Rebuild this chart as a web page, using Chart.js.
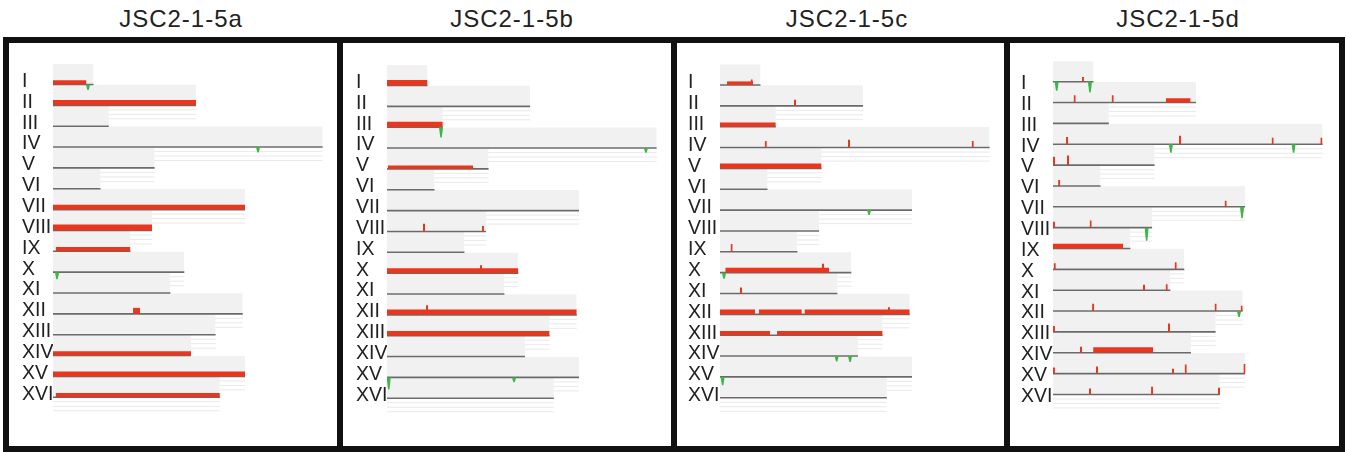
<!DOCTYPE html>
<html>
<head>
<meta charset="utf-8">
<script src="https://cdn.jsdelivr.net/npm/chart.js@4.4.1/dist/chart.umd.min.js"></script>
<style>
  body { margin: 0; width: 1347px; height: 452px; background: #fff; position: relative; overflow: hidden;
         font-family: "Liberation Sans", Arial, sans-serif; }
  .frame { position: absolute; left: 3px; top: 37px; width: 1342px; height: 415px; background: #111; }
  .panel { position: absolute; top: 43px; height: 403px; background: #fff; }
  .panel canvas { display: block; }
  .title { position: absolute; top: 5px; font-size: 24px; letter-spacing: 1px; color: #222;
           transform: translateX(-50%); white-space: nowrap; }
</style>
</head>
<body>
<div class="frame"></div>
<div id="stage"></div>
<script>
// yeast chromosomes and their lengths (kb)
const chromosomes = ['I', 'II', 'III', 'IV', 'V', 'VI', 'VII', 'VIII', 'IX', 'X', 'XI', 'XII', 'XIII', 'XIV', 'XV', 'XVI'];
const lengthsKb = [230, 813, 317, 1532, 577, 270, 1091, 563, 440, 746, 667, 1078, 924, 784, 1091, 948];
const panelTitles = ['JSC2-1-5a', 'JSC2-1-5b', 'JSC2-1-5c', 'JSC2-1-5d'];

// gained segments: [chromosome index, start kb, end kb, level]
const gainsA = [[0, 0, 190, 0.7], [1, 0, 813, 0.9], [6, 0, 1091, 0.8], [7, 0, 563, 1.0], [8, 15, 440, 0.7],
                [11, 455, 495, 1.0], [13, 0, 784, 0.7], [14, 0, 1091, 0.8], [15, 15, 948, 0.7]];
const gainsB = [[0, 0, 230, 0.9], [2, 0, 317, 0.9], [4, 5, 490, 0.55], [9, 0, 746, 0.8],
                [11, 0, 1078, 0.9], [12, 0, 924, 0.8]];
const gainsC = [[0, 40, 188, 0.6], [2, 0, 317, 0.7], [4, 0, 577, 0.8], [9, 30, 620, 0.8],
                [11, 0, 200, 0.8], [11, 220, 465, 0.8], [11, 480, 1078, 0.8], [12, 0, 284, 0.7], [12, 324, 924, 0.7]];
const gainsD = [[1, 642, 782, 0.7], [8, 0, 398, 0.8], [13, 228, 569, 0.9]];

// single probes / narrow peaks: [chromosome index, position kb, level] (negative = loss)
const spikesA = [[0, 199, -0.9], [3, 1165, -0.9], [9, 23, -1.2]];
const spikesB = [[2, 307, -1.7], [3, 1471, -0.8], [7, 210, 1.3], [7, 545, 0.9], [9, 534, 1.3],
                 [11, 227, 1.6], [14, 10, -2.0], [14, 722, -0.8]];
const spikesC = [[0, 180, 0.9], [1, 426, 1.0], [3, 260, 1.1], [3, 733, 1.3], [3, 1436, 1.1], [6, 847, -0.8],
                 [8, 66, 1.3], [9, 585, 1.5], [9, 23, -1.0], [10, 119, 1.0], [11, 960, 1.2],
                 [13, 663, -0.9], [13, 739, -1.0], [14, 15, -1.4]];
const spikesD = [[0, 21, -1.5], [0, 210, -1.8], [0, 170, 0.8], [1, 123, 1.2], [1, 339, 1.2],
                 [3, 80, 1.2], [3, 722, 1.4], [3, 1248, 1.1], [3, 1525, 1.1], [3, 670, -1.4], [3, 1367, -1.4],
                 [4, 6, 1.4], [4, 85, 1.6], [5, 35, 1.0], [6, 981, 1.0], [6, 1074, -1.9],
                 [7, 5, 1.0], [7, 214, 1.2], [7, 532, -2.2], [9, 10, 1.0], [9, 697, 1.2],
                 [10, 517, 0.9], [10, 646, 1.0], [11, 228, 1.2], [11, 924, 1.2], [11, 1072, 0.9], [11, 1057, -1.0],
                 [12, 5, 1.0], [12, 659, 1.4], [13, 159, 1.0],
                 [14, 5, 1.0], [14, 250, 1.2], [14, 682, 0.8], [14, 754, 1.5], [14, 1088, 1.6],
                 [15, 210, 1.0], [15, 563, 1.3], [15, 943, 1.1]];

const allGains = [gainsA, gainsB, gainsC, gainsD];
const allSpikes = [spikesA, spikesB, spikesC, spikesD];

// layout of the four framed panels (page px)
const boxes = [
  {left: 9,    width: 328, labelX: 13, trackX: 44, base0: 41.5, labelShift: -3,  titleX: 181},
  {left: 343,  width: 328, labelX: 13, trackX: 44, base0: 42.5, labelShift: -3,  titleX: 512},
  {left: 677,  width: 327, labelX: 11, trackX: 43, base0: 42,   labelShift: -2,  titleX: 847},
  {left: 1010, width: 329, labelX: 11, trackX: 43, base0: 38.7, labelShift: 2,   titleX: 1178}
];
const panelH = 403;
const pitch = 20.85;      // px between chromosome rows
const pxPerKb = 0.176;
const levelPx = 6;        // px per signal level

const RED = '#e8361f', GREEN = '#3fb548', BAND = '#f1f1f1', RULE = '#e9e9e9', LINE = '#6a6a6a';

function lineSet(points, opts) {
  return Object.assign({
    type: 'line', data: points, pointRadius: 0, borderWidth: 0, tension: 0, fill: false
  }, opts);
}

function buildDatasets(gains, spikes) {
  const u = 1 / pitch;
  const lv = levelPx / pitch;
  const under = [], over = [];
  lengthsKb.forEach((len, i) => {
    // light plot band above the baseline
    under.push(lineSet([{x: 0, y: i - 20.5 * u}, {x: len, y: i - 20.5 * u}],
      {fill: {value: i - 1 * u}, backgroundColor: BAND}));
    // faint guide lines below the baseline
    [4.5, 9, 13.5].forEach(k => {
      under.push(lineSet([{x: 0, y: i + k * u}, {x: len, y: i + k * u}], {borderWidth: 1, borderColor: RULE}));
    });
    // baseline
    over.push(lineSet([{x: 0, y: i}, {x: len, y: i}], {borderWidth: 1.6, borderColor: LINE}));
  });
  gains.forEach(([c, s, e, lvl]) => {
    over.push(lineSet([{x: s, y: c - lvl * lv}, {x: e, y: c - lvl * lv}],
      {fill: {value: c}, backgroundColor: RED}));
  });
  spikes.forEach(([c, p, lvl]) => {
    if (lvl > 0) {
      over.push(lineSet([{x: p - 6, y: c - lvl * lv}, {x: p + 6, y: c - lvl * lv}],
        {fill: {value: c}, backgroundColor: RED}));
    } else {
      over.push(lineSet([{x: p - 12, y: c}, {x: p - 4, y: c - lvl * lv}, {x: p + 4, y: c - lvl * lv}, {x: p + 12, y: c}],
        {fill: {value: c}, backgroundColor: GREEN}));
    }
  });
  const seq = under.concat(over);
  seq.forEach((d, k) => { d.order = -k; });   // later entries drawn on top
  return seq;
}

const stage = document.getElementById('stage');
boxes.forEach((b, n) => {
  const title = document.createElement('div');
  title.className = 'title';
  title.style.left = b.titleX + 'px';
  title.textContent = panelTitles[n];
  stage.appendChild(title);

  const div = document.createElement('div');
  div.className = 'panel';
  div.style.left = b.left + 'px';
  div.style.width = b.width + 'px';
  const canvas = document.createElement('canvas');
  canvas.width = b.width;
  canvas.height = panelH;
  div.appendChild(canvas);
  stage.appendChild(div);

  const yMin = -b.base0 / pitch;
  const yMax = yMin + panelH / pitch;

  new Chart(canvas.getContext('2d'), {
    type: 'line',
    data: { datasets: buildDatasets(allGains[n], allSpikes[n]) },
    options: {
      responsive: false,
      animation: false,
      layout: { padding: { left: b.labelX, right: 0, top: 0, bottom: 0 } },
      plugins: { legend: { display: false }, tooltip: { enabled: false } },
      scales: {
        x: { type: 'linear', display: false, min: 0, max: (b.width - b.trackX) / pxPerKb },
        y: {
          type: 'linear', reverse: true, min: yMin, max: yMax,
          grid: { display: false }, border: { display: false },
          afterFit: scale => {
            scale.width = b.trackX - b.labelX;
            scale.paddingTop = 0;
            scale.paddingBottom = 0;
          },
          afterBuildTicks: scale => {
            scale.ticks = chromosomes.map((c, i) => ({ value: i + b.labelShift / pitch }));
          },
          ticks: {
            autoSkip: false, crossAlign: 'far', padding: 0, color: '#222',
            font: { family: 'Liberation Sans', size: 19.5 },
            callback: (v, idx) => chromosomes[idx]
          }
        }
      }
    }
  });
});
</script>
</body>
</html>
